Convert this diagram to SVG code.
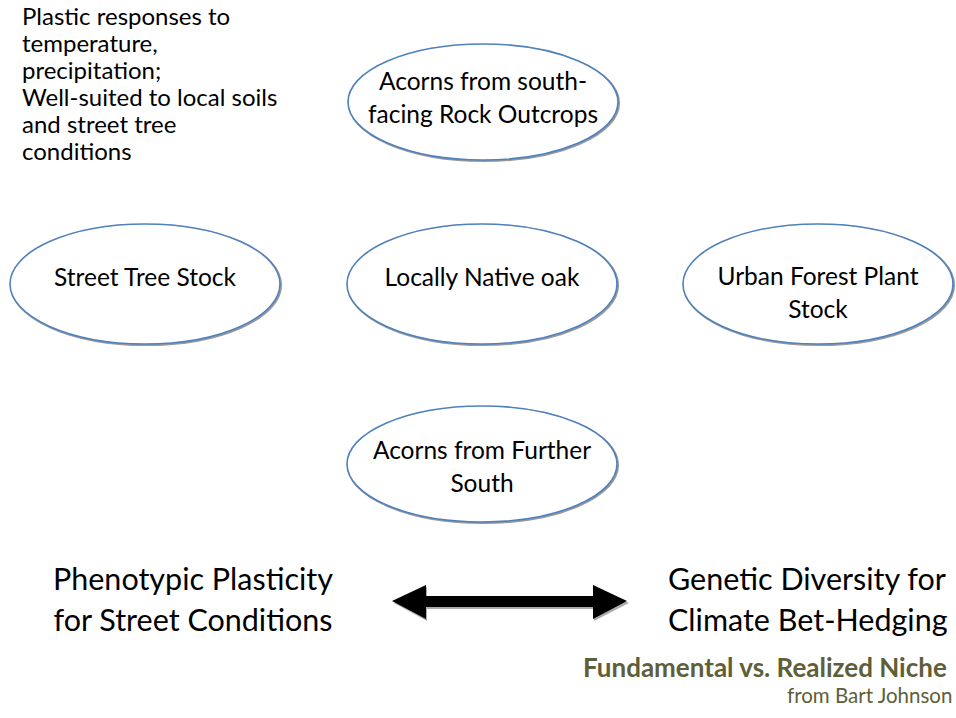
<svg xmlns="http://www.w3.org/2000/svg" width="956" height="718" viewBox="0 0 956 718">
<style>
.sh{fill:none;stroke:#9a9a9a;stroke-width:2.2}
.el{fill:#fff;stroke:#4f81bd;stroke-width:1.6}
.t{font-family:Lato,"Open Sans",sans-serif;fill:#000}
.e{font-size:24.5px;text-anchor:middle}
.note{font-size:24px}
.big{font-size:30.5px}
.ft{font-family:Lato,"Open Sans",sans-serif;fill:#5e5e38}
</style>
<rect width="956" height="718" fill="#fff"/>
<g id="note">
<text class="t note" x="22" y="25">Plastic responses to</text>
<text class="t note" x="22" y="52">temperature,</text>
<text class="t note" x="22" y="79">precipitation;</text>
<text class="t note" x="22" y="106">Well-suited to local soils</text>
<text class="t note" x="22" y="133">and street tree</text>
<text class="t note" x="22" y="160">conditions</text>
</g>
<g id="n_top">
<ellipse class="sh" cx="484" cy="103" rx="135" ry="58"/>
<ellipse class="el" cx="483" cy="102" rx="135" ry="58"/>
<text class="t e" x="483" y="90">Acorns from south-</text>
<text class="t e" x="483" y="123">facing Rock Outcrops</text>
</g>
<g id="n_street">
<ellipse class="sh" cx="146" cy="285" rx="135" ry="60"/>
<ellipse class="el" cx="145" cy="284" rx="135" ry="60"/>
<text class="t e" x="145" y="286">Street Tree Stock</text>
</g>
<g id="n_local">
<ellipse class="sh" cx="483" cy="285" rx="135" ry="60"/>
<ellipse class="el" cx="482" cy="284" rx="135" ry="60"/>
<text class="t e" x="482" y="286">Locally Native oak</text>
</g>
<g id="n_urban">
<ellipse class="sh" cx="819" cy="285" rx="135" ry="60"/>
<ellipse class="el" cx="818" cy="284" rx="135" ry="60"/>
<text class="t e" x="818" y="285">Urban Forest Plant</text>
<text class="t e" x="818" y="318">Stock</text>
</g>
<g id="n_south">
<ellipse class="sh" cx="483" cy="465" rx="135" ry="58"/>
<ellipse class="el" cx="482" cy="464" rx="135" ry="58"/>
<text class="t e" x="482" y="459">Acorns from Further</text>
<text class="t e" x="482" y="492">South</text>
</g>
<g id="connectors">
<polygon points="394,603 427,587 427,598 594,598 594,587 629,603 594,621 594,609 427,609 427,621" fill="#888" opacity="0.7"/>
<polygon points="392,601 426,585 426,596 593,596 593,585 627,601 593,619 593,607 426,607 426,619" fill="#000"/>
</g>
<g id="labels">
<text class="t big" x="193" y="590" text-anchor="middle">Phenotypic Plasticity</text>
<text class="t big" x="193" y="631" text-anchor="middle">for Street Conditions</text>
<text class="t big" x="668" y="590">Genetic Diversity for</text>
<text class="t big" x="668" y="631">Climate Bet-Hedging</text>
<text class="ft" x="583" y="677" font-size="26" font-weight="bold">Fundamental vs. Realized Niche</text>
<text class="ft" x="787" y="703" font-size="20.5">from Bart Johnson</text>
</g>
</svg>
